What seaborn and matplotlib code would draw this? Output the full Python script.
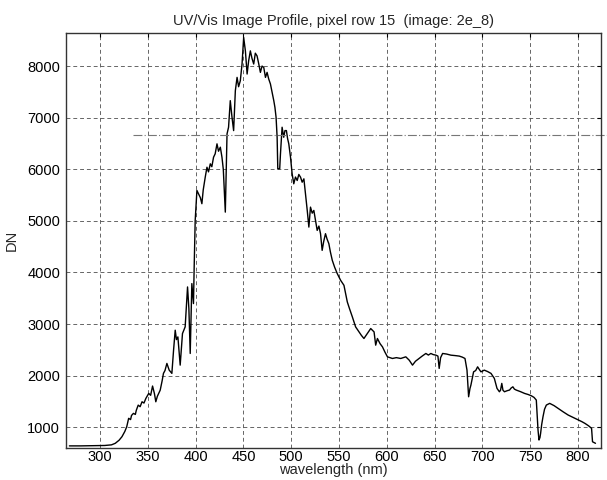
import matplotlib
matplotlib.use("Agg")
import matplotlib.pyplot as plt
import seaborn as sns
import pandas as pd

wavelength = [268, 280, 295, 305, 312, 316, 320, 323, 326, 328, 330, 332, 333, 335, 337, 338, 340, 342, 344, 346,
              348, 351, 353, 355, 357, 358.4, 360, 363, 365, 366.4, 368, 370, 372.4, 375.2, 377, 378.7, 380, 381.5,
              383.9, 386.3, 389.1, 390.5, 391.6, 393, 394.4, 396.1, 397.8, 398.5, 399.6, 401.4, 403.1, 405, 406.6,
              408, 410.1, 411.9, 413.5, 415.4, 417, 418.8, 420.5, 422.4, 424, 425.9, 427.6, 429, 431.1, 432.9,
              434.5, 436.3, 438.1, 439.8, 441.6, 443.4, 445, 446.8, 448.6, 450.3, 452.1, 453.9, 455.5, 457.3, 459,
              460.8, 462.5, 464.3, 466, 467.8, 469.5, 471.3, 473.1, 474.8, 476.5, 478.3, 480, 481.8, 483, 484.2,
              485.3, 486, 488, 488.8, 490.5, 492.2, 493.5, 495, 496.2, 497.5, 499.3, 501, 502.7, 504.5, 506.3, 508,
              509.8, 511.5, 513.3, 515, 516.8, 518.5, 520.2, 522, 523.7, 525.5, 527.2, 529, 530.7, 532.4, 534,
              535.9, 537.5, 539.4, 541, 543, 545.5, 548.2, 551.7, 555.2, 558.7, 561, 564, 567.4, 570.9, 573.5,
              576.1, 579.7, 583.2, 586.7, 588.4, 590.2, 593, 595.5, 598, 600.7, 605.9, 610, 614.6, 619.9, 623.5,
              626.9, 630, 633.8, 637, 640.9, 643.5, 646.1, 648.5, 651.4, 653.5, 654.8, 656.3, 658.4, 662.5, 667.1,
              671.5, 675.8, 679, 681.8, 683.9, 685.6, 687, 688, 690.8, 693, 695, 696.8, 698.5, 702, 705.5, 709,
              712.5, 715.3, 717.8, 719, 720.3, 721.5, 723.1, 726, 728.4, 730, 731.9, 733.5, 735.4, 740, 744.1, 748,
              751.2, 754, 756.4, 757.4, 758.2, 759.2, 760.2, 760.9, 762, 763.4, 765, 766.9, 770.4, 775, 779.2,
              784.5, 789.7, 795, 800.2, 804, 807.2, 811, 814.2, 815.2, 818.3]
dn = [640, 640, 645, 648, 660, 690, 750, 818, 920, 1012, 1174, 1150, 1230, 1270, 1250, 1330, 1430, 1400, 1495, 1470,
      1560, 1657, 1620, 1800, 1650, 1495, 1600, 1720, 1900, 2045, 2100, 2238, 2108, 2045, 2500, 2882, 2700, 2752,
      2205, 2817, 2946, 3400, 3720, 3300, 2431, 3785, 3398, 4075, 5010, 5590, 5526, 5450, 5333,
      5600, 5847, 6040, 5950, 6106, 6050, 6234, 6300, 6493, 6350, 6428, 6234, 6000, 5170, 6686,
      6815, 7330, 7008, 6750, 7523, 7781, 7600, 7717, 8040, 8555, 8295, 7846, 8100, 8295, 8150,
      8040, 8250, 8198, 8050, 7878, 8000, 7975, 7781, 7878, 7750, 7653, 7500, 7331, 7200, 7008,
      6621, 6010, 6010, 6300, 6815, 6621, 6750, 6750, 6600, 6493, 6234, 5912, 5719, 5850, 5783, 5900,
      5847, 5750, 5815, 5526, 5203, 4880, 5267, 5150, 5203, 5000, 4816, 4900, 4752, 4429, 4600,
      4752, 4650, 4559, 4400, 4236, 4100, 3979, 3849, 3752, 3430, 3300, 3139, 2946, 2849, 2780,
      2721, 2817, 2914, 2849, 2592, 2721, 2620, 2559, 2460, 2366, 2334, 2350, 2334, 2366, 2300,
      2205, 2280, 2334, 2380, 2431, 2400, 2431, 2410, 2398, 2380, 2141, 2350, 2431, 2420, 2398,
      2390, 2380, 2360, 2334, 2108, 1592, 1750, 1818, 2075, 2100, 2172, 2120, 2075, 2108, 2080, 2045,
      1948, 1754, 1689, 1720, 1851, 1720, 1689, 1710, 1722, 1760, 1785, 1740, 1722, 1690, 1657, 1635,
      1611, 1580, 1528, 1200, 948, 754, 800, 883, 1050, 1205, 1350, 1431, 1464, 1420, 1367,
      1300, 1238, 1190, 1141, 1110, 1077, 1030, 981, 720, 690]

x_ticks = [300, 350, 400, 450, 500, 550, 600, 650, 700, 750, 800]
y_ticks = [1000, 2000, 3000, 4000, 5000, 6000, 7000, 8000]

# scan artefact line across the plot (as in reference)
artifact_x = [335, 832]
artifact_y = [6670, 6670]

sns.set_style("white")
plt.rcParams['font.family'] = ['Liberation Sans', 'DejaVu Sans']

fig = plt.figure(figsize=(6.07, 4.80), dpi=100)
ax = fig.add_axes([0.108, 0.0673, 0.882, 0.8633])

df = pd.DataFrame({"wavelength": wavelength, "DN": dn})
sns.lineplot(data=df, x="wavelength", y="DN", color="black", linewidth=1.0, ax=ax, sort=False)

ax.set_xlim(264, 824)
ax.set_ylim(605, 8635)
ax.set_xticks(x_ticks)
ax.set_yticks(y_ticks)
ax.grid(True, color="#555555", linestyle=(0, (4, 3)), linewidth=0.7, alpha=0.9)
ax.plot(artifact_x, artifact_y, color="#777777", linewidth=0.8, linestyle=(0, (8, 2, 1, 2)), clip_on=False)

ax.tick_params(axis="x", direction="in", length=3, labelsize=10.5, top=True, colors="black", pad=2)
ax.tick_params(axis="y", direction="in", length=3, labelsize=10.5, right=True, colors="black", pad=4)
for s in ax.spines.values():
    s.set_color("#333333")
    s.set_linewidth(1.0)

ax.set_title("UV/Vis Image Profile, pixel row 15  (image: 2e_8)", fontsize=10.5, pad=6)
ax.set_xlabel("wavelength (nm)", fontsize=10.5, labelpad=-1)
ax.set_ylabel("DN", fontsize=10.5, labelpad=6)

fig.savefig("out.png", dpi=100)
